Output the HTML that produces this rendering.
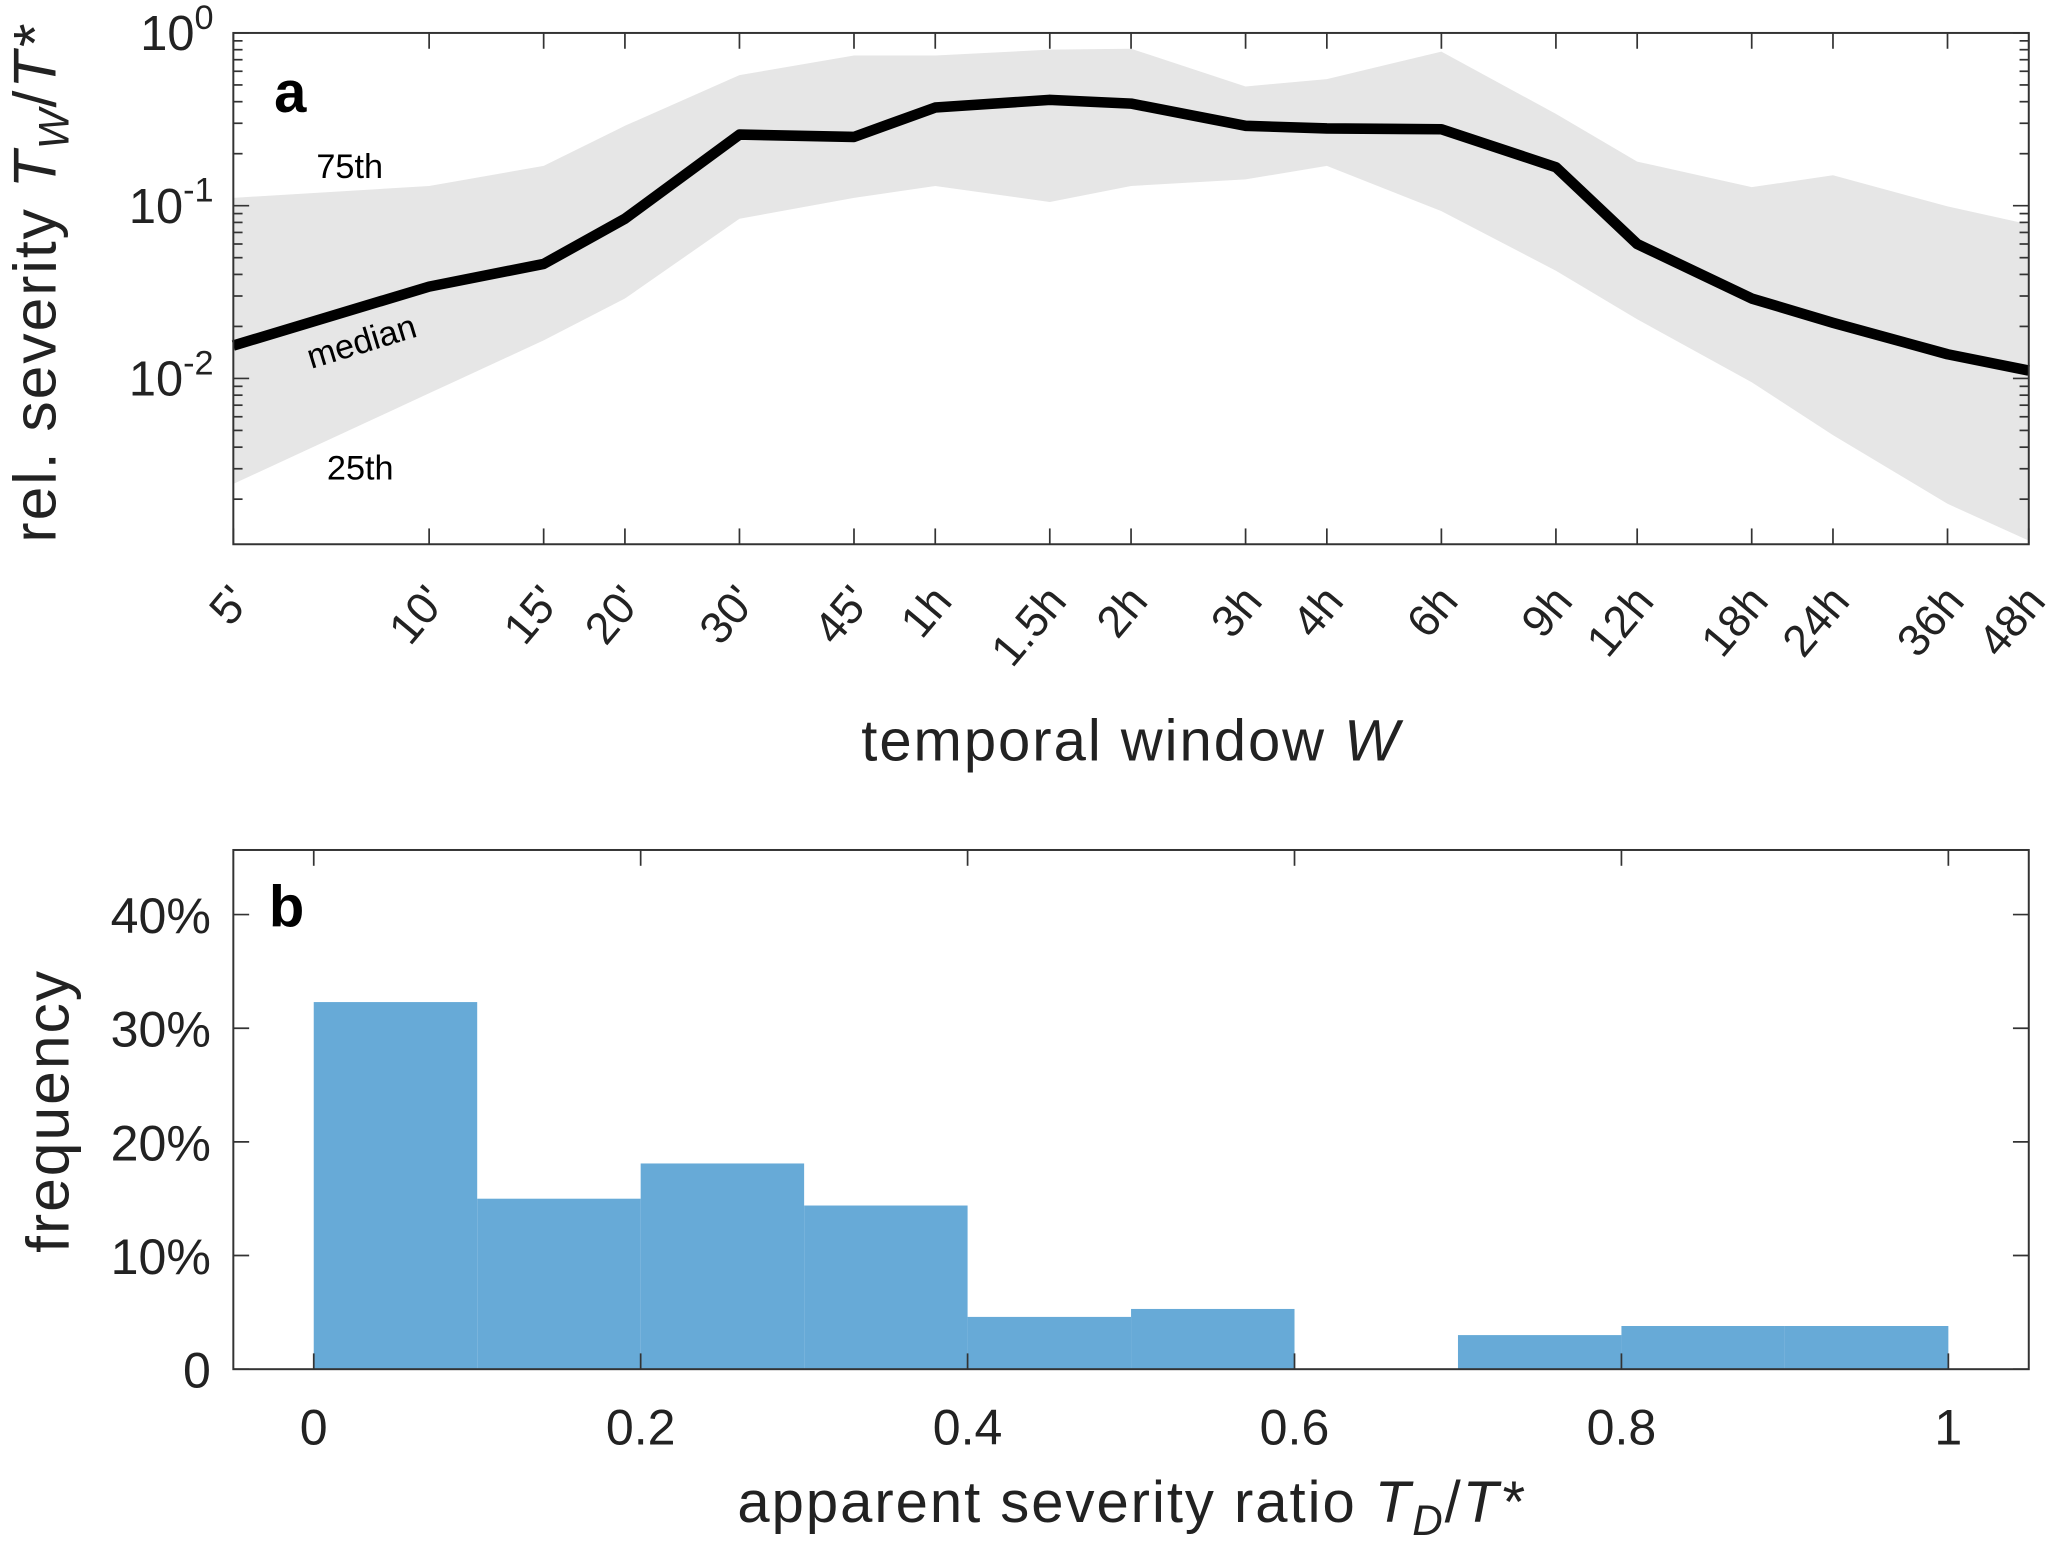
<!DOCTYPE html>
<html><head><meta charset="utf-8"><style>
html,body{margin:0;padding:0;background:#fff}
svg{display:block;font-family:"Liberation Sans",Arial,sans-serif}
</style></head><body>
<svg id="fig" width="2067" height="1555" viewBox="0 0 1568 1180" preserveAspectRatio="none" xmlns="http://www.w3.org/2000/svg">
<g id="pa"></g>
<g id="pb"></g>
</svg>
<script>
const windowLabels=["5'","10'","15'","20'","30'","45'","1h","1.5h","2h","3h","4h","6h","9h","12h","18h","24h","36h","48h"];
const windowMinutes=[5,10,15,20,30,45,60,90,120,180,240,360,540,720,1080,1440,2160,2880];
const medianVals=[0.0155,0.034,0.046,0.084,0.258,0.25,0.37,0.41,0.39,0.29,0.28,0.277,0.167,0.06,0.029,0.021,0.0138,0.0111];
const p75Vals=[0.111,0.13,0.17,0.29,0.57,0.74,0.74,0.80,0.81,0.49,0.54,0.78,0.34,0.18,0.128,0.15,0.099,0.078];
const p25Vals=[0.00245,0.0082,0.0166,0.029,0.084,0.111,0.13,0.105,0.13,0.142,0.17,0.093,0.042,0.022,0.0095,0.0047,0.00188,0.00115];
const yTickExp=[0,-1,-2];
const binEdges=[0,0.1,0.2,0.3,0.4,0.5,0.6,0.7,0.8,0.9,1.0];
const binFreq=[32.3,15.0,18.1,14.4,4.6,5.3,0,3.0,3.8,3.8];
const xTicksB=[0,0.2,0.4,0.6,0.8,1];
const xTickLabelsB=["0","0.2","0.4","0.6","0.8","1"];
const yTicksB=[0,10,20,30,40];
const yTickLabelsB=["0","10%","20%","30%","40%"];

const NS="http://www.w3.org/2000/svg";
function mk(p,tag,at,txt){const e=document.createElementNS(NS,tag);for(const k in at)e.setAttribute(k,at[k]);if(txt!==undefined)e.textContent=txt;p.appendChild(e);return e;}
const pa=document.getElementById('pa'),pb=document.getElementById('pb');

const AX0=177,AX1=1539,AY0=25,AY1=413;
const xmin=Math.log10(5),xmax=Math.log10(2880);
const ylo=-2.96,yhi=0;
function xa(m){return AX0+(Math.log10(m)-xmin)/(xmax-xmin)*(AX1-AX0);}
function ya(v){return AY0+(yhi-Math.log10(v))/(yhi-ylo)*(AY1-AY0);}

let band="";
windowMinutes.forEach((m,i)=>{band+=(i?"L":"M")+xa(m)+","+ya(p75Vals[i]);});
for(let i=windowMinutes.length-1;i>=0;i--)band+="L"+xa(windowMinutes[i])+","+ya(p25Vals[i]);
let e=mk(pa,'path',{d:band+"Z",fill:"#e6e6e6"});


let med="";
windowMinutes.forEach((m,i)=>{med+=(i?"L":"M")+xa(m)+","+ya(medianVals[i]);});
e=mk(pa,'path',{d:med,fill:"none",stroke:"#000","stroke-width":8,"stroke-linejoin":"round"});


e=mk(pa,'rect',{x:AX0,y:AY0,width:AX1-AX0,height:AY1-AY0,fill:"none",stroke:"#333","stroke-width":1.5});


for(let d=-3;d<=0;d++){for(let k=1;k<10;k++){const v=k*Math.pow(10,d);const lv=Math.log10(v);if(lv<ylo||lv>yhi)continue;const y=ya(v);const L=k===1?12:7;
mk(pa,'line',{x1:AX0,y1:y,x2:AX0+L,y2:y,stroke:"#333","stroke-width":1.3});mk(pa,'line',{x1:AX1,y1:y,x2:AX1-L,y2:y,stroke:"#333","stroke-width":1.3});}}
yTickExp.forEach(ex=>{const y=ya(Math.pow(10,ex));
const t=mk(pa,'text',{x:162,y:y+13,"text-anchor":"end","font-size":37,fill:"#222"});


t.textContent="10";mk(t,'tspan',{dy:-16,"font-size":26},String(ex));});
windowMinutes.forEach((m,i)=>{const x=xa(m);
mk(pa,'line',{x1:x,y1:AY1,x2:x,y2:AY1-12,stroke:"#333","stroke-width":1.3});mk(pa,'line',{x1:x,y1:AY0,x2:x,y2:AY0+12,stroke:"#333","stroke-width":1.3});
const t=mk(pa,'text',{x:0,y:0,"text-anchor":"end","font-size":34,fill:"#222",transform:`translate(${x+14},${AY1+44}) rotate(-50)`},windowLabels[i]);

});
e=mk(pa,'text',{x:208,y:85,"font-size":44,"font-weight":"bold",fill:"#000"},"a");


e=mk(pa,'text',{x:240,y:135,"font-size":26,fill:"#000"},"75th");


e=mk(pa,'text',{x:248,y:364,"font-size":26,fill:"#000"},"25th");


e=mk(pa,'text',{x:0,y:0,"font-size":26,fill:"#000",transform:"translate(236,280) rotate(-17)"},"median");


e=mk(pa,'text',{x:0,y:0,"text-anchor":"middle","font-size":46,"letter-spacing":1.5,fill:"#222",transform:"translate(42,215) rotate(-90)"});


e.textContent="rel. severity  ";mk(e,'tspan',{"font-style":"italic"},"T");mk(e,'tspan',{"font-style":"italic","font-size":32,dy:10},"W");mk(e,'tspan',{dy:-10},"/");mk(e,'tspan',{"font-style":"italic"},"T*");
e=mk(pa,'text',{x:858,y:577,"text-anchor":"middle","font-size":44,"letter-spacing":1.5,fill:"#222"},"temporal window  ");


mk(e,'tspan',{"font-style":"italic"},"W");

const BX0=177,BX1=1539,BY0=645,BY1=1039;
function xb(v){return 238+v*(1478-238);}
function yb(p){return BY1-p*8.625;}
binFreq.forEach((f,i)=>{if(f<=0)return;const r=mk(pb,'rect',{x:xb(binEdges[i]),y:yb(f),width:xb(binEdges[i+1])-xb(binEdges[i]),height:BY1-yb(f),fill:"#67aad7"});

});
e=mk(pb,'rect',{x:BX0,y:BY0,width:BX1-BX0,height:BY1-BY0,fill:"none",stroke:"#333","stroke-width":1.5});


xTicksB.forEach((v,i)=>{const x=xb(v);
mk(pb,'line',{x1:x,y1:BY1,x2:x,y2:BY1-12,stroke:"#333","stroke-width":1.3});mk(pb,'line',{x1:x,y1:BY0,x2:x,y2:BY0+12,stroke:"#333","stroke-width":1.3});
const t=mk(pb,'text',{x:x,y:1096,"text-anchor":"middle","font-size":38,fill:"#222"},xTickLabelsB[i]);

});
yTicksB.forEach((v,i)=>{const y=yb(v);
mk(pb,'line',{x1:BX0,y1:y,x2:BX0+12,y2:y,stroke:"#333","stroke-width":1.3});mk(pb,'line',{x1:BX1,y1:y,x2:BX1-12,y2:y,stroke:"#333","stroke-width":1.3});
const t=mk(pb,'text',{x:160,y:y+14,"text-anchor":"end","font-size":38,fill:"#222"},yTickLabelsB[i]);

});
e=mk(pb,'text',{x:204,y:703,"font-size":44,"font-weight":"bold",fill:"#000"},"b");


e=mk(pb,'text',{x:0,y:0,"text-anchor":"middle","font-size":46,"letter-spacing":1.5,fill:"#222",transform:"translate(52,843) rotate(-90)"},"frequency");


e=mk(pb,'text',{x:858,y:1155,"text-anchor":"middle","font-size":44,"letter-spacing":1.5,fill:"#222"},"apparent severity ratio  ");


mk(e,'tspan',{"font-style":"italic"},"T");mk(e,'tspan',{"font-style":"italic","font-size":32,dy:10},"D");mk(e,'tspan',{dy:-10},"/");mk(e,'tspan',{"font-style":"italic"},"T*");
</script>
</body></html>
